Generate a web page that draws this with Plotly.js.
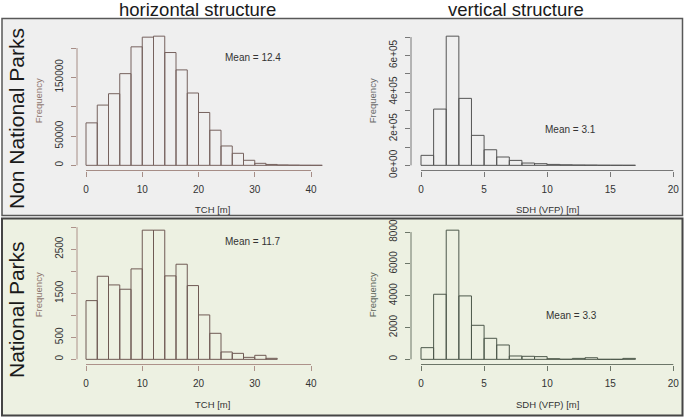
<!DOCTYPE html>
<html><head><meta charset="utf-8">
<script src="https://cdn.plot.ly/plotly-3.0.1.min.js"></script>
<style>html,body{margin:0;padding:0;background:#fff}#chart{width:685px;height:417px}</style>
</head><body><div id="chart"></div>
<script>
// ---------- DATA ----------
const columnTitles = ['horizontal structure', 'vertical structure'];
const rowTitles = ['Non National Parks', 'National Parks'];
const xTitles = ['TCH [m]', 'SDH (VFP) [m]'];
const yTitle = 'Frequency';

// Histogram bin edges and counts
const tchEdgesNonNP = [0,2,4,6,8,10,12,14,16,18,20,22,24,26,28,30,32,34,36,38,40,42];
const tchCountsNonNP = [72400,102700,122100,156300,202000,218500,220200,192300,162700,123300,90100,59900,33000,20500,8600,3400,1500,700,400,100,50];

const sdhEdgesNonNP = [0,1,2,3,4,5,6,7,8,9,10,11,12,13,14,15,16,17];
const sdhCountsNonNP = [54500,307000,705000,365500,163600,85000,45500,27000,12500,9000,5000,3000,2000,1500,800,500,300];

const tchEdgesNP = [0,2,4,6,8,10,12,14,16,18,20,22,24,26,28,30,32,34];
const tchCountsNP = [1333,1886,1689,1591,2053,2932,2932,1894,2159,1674,1008,591,167,136,45,91,23];

const sdhEdgesNP = [0,1,2,3,4,5,6,7,8,9,10,11,12,13,14,15,16,17];
const sdhCountsNP = [734,4092,8121,3987,2140,1322,902,210,190,170,40,5,60,100,0,0,60];

const meanLabels = ['Mean = 12.4', 'Mean = 3.1', 'Mean = 11.7', 'Mean = 3.3'];

// Tick values / labels
const tchTicks = [0,10,20,30,40];
const sdhTicks = [0,5,10,15,20];
const freqTicksNonNPTch = [0,50000,100000,150000,200000];
const freqLabelsNonNPTch = ['0','50000','','150000',''];
const freqTicksNonNPSdh = [0,100000,200000,300000,400000,500000,600000,700000];
const freqLabelsNonNPSdh = ['0e+00','','2e+05','','4e+05','','6e+05',''];
const freqTicksNPTch = [0,500,1000,1500,2000,2500,3000];
const freqLabelsNPTch = ['0','500','','1500','','2500',''];
const freqTicksNPSdh = [0,2000,4000,6000,8000];
const freqLabelsNPSdh = ['0','2000','4000','6000','8000'];

// ---------- LAYOUT HELPERS ----------
const W = 685, H = 417;
const px = v => v / W;
const py = v => 1 - v / H;

const panels = [
  {edges: tchEdgesNonNP, counts: tchCountsNonNP, xt: tchTicks, yt: freqTicksNonNPTch, yl: freqLabelsNonNPTch,
   xpx: [77, 349], ypx: [31, 170.5], zero: 86, scale: 5.625, bar: '#76625e', ax: '#a68d86', ftc: '#8f7770',
   mean: meanLabels[0], meanPx: [253, 57], freqPx: 38.5, xtitle: xTitles[0], xtitlePx: 209.5},
  {edges: sdhEdgesNonNP, counts: sdhCountsNonNP, xt: sdhTicks, yt: freqTicksNonNPSdh, yl: freqLabelsNonNPSdh,
   xpx: [411, 683.4], ypx: [31, 170.5], zero: 421, scale: 12.615, bar: '#555555', ax: '#787878', ftc: '#6a6a6a',
   mean: meanLabels[1], meanPx: [570.5, 129], freqPx: 372.5, xtitle: xTitles[1], xtitlePx: 209.5},
  {edges: tchEdgesNP, counts: tchCountsNP, xt: tchTicks, yt: freqTicksNPTch, yl: freqLabelsNPTch,
   xpx: [77, 349], ypx: [225, 364.5], zero: 86, scale: 5.625, bar: '#6f5a54', ax: '#ad928a', ftc: '#8f7770',
   mean: meanLabels[2], meanPx: [252.5, 242], freqPx: 38.5, xtitle: xTitles[0], xtitlePx: 404},
  {edges: sdhEdgesNP, counts: sdhCountsNP, xt: sdhTicks, yt: freqTicksNPSdh, yl: freqLabelsNPSdh,
   xpx: [411, 683.4], ypx: [225, 364.5], zero: 421, scale: 12.615, bar: '#4d584b', ax: '#6c7668', ftc: '#5e665b',
   mean: meanLabels[3], meanPx: [571, 315], freqPx: 372.5, xtitle: xTitles[1], xtitlePx: 404}
];

const traces = [];
const layout = {
  width: W, height: H,
  margin: {l: 0, r: 0, t: 0, b: 0, pad: 0},
  paper_bgcolor: '#ffffff',
  plot_bgcolor: 'rgba(0,0,0,0)',
  showlegend: false,
  font: {family: 'Liberation Sans, Arial, sans-serif', color: '#333'},
  shapes: [
    {type: 'rect', xref: 'paper', yref: 'paper', x0: px(2), x1: px(682.5), y0: py(18.5), y1: py(215.5),
     fillcolor: '#efefef', line: {color: '#585858', width: 1.5}, layer: 'below'},
    {type: 'rect', xref: 'paper', yref: 'paper', x0: px(2), x1: px(682.5), y0: py(218.5), y1: py(415.5),
     fillcolor: '#edf1e2', line: {color: '#454545', width: 2}, layer: 'below'}
  ],
  annotations: []
};

panels.forEach((p, i) => {
  const n = i + 1;
  const xid = 'x' + (n === 1 ? '' : n), yid = 'y' + (n === 1 ? '' : n);
  const xkey = 'xaxis' + (n === 1 ? '' : n), ykey = 'yaxis' + (n === 1 ? '' : n);
  const centers = p.counts.map((c, k) => (p.edges[k] + p.edges[k + 1]) / 2);
  const widths = p.counts.map((c, k) => p.edges[k + 1] - p.edges[k]);
  traces.push({
    type: 'bar', x: centers, y: p.counts, width: widths, xaxis: xid, yaxis: yid,
    marker: {color: 'rgba(0,0,0,0)', line: {color: p.bar, width: 1}},
    hoverinfo: 'skip'
  });
  const maxC = Math.max(...p.counts);
  const xr = [(p.xpx[0] - p.zero) / p.scale, (p.xpx[1] - p.zero) / p.scale];
  layout[xkey] = {
    domain: [px(p.xpx[0]), px(p.xpx[1])], range: xr, anchor: yid,
    showline: false, zeroline: false, showgrid: false,
    ticks: 'outside', ticklen: 5, tickwidth: 1, tickcolor: p.ax,
    tickvals: p.xt, ticktext: p.xt.map(String), ticklabelstandoff: 4,
    tickfont: {size: 10, color: '#333'}, fixedrange: true
  };
  layout[ykey] = {
    domain: [py(p.ypx[1]), py(p.ypx[0])], range: [-0.04 * maxC, 1.04 * maxC], anchor: xid,
    showline: false, zeroline: false, showgrid: false,
    ticks: 'outside', ticklen: 5, tickwidth: 1, tickcolor: p.ax,
    tickvals: p.yt, ticktext: p.yl, tickangle: -90, ticklabelstandoff: 4,
    tickfont: {size: 10, color: '#333'}, fixedrange: true
  };
  // R-style axis lines spanning first to last tick
  layout.shapes.push({type: 'line', xref: xid, yref: yid + ' domain', x0: p.xt[0], x1: p.xt[p.xt.length - 1], y0: 0, y1: 0,
    line: {color: p.ax, width: 1}});
  layout.shapes.push({type: 'line', xref: xid + ' domain', yref: yid, x0: 0, x1: 0, y0: p.yt[0], y1: p.yt[p.yt.length - 1],
    line: {color: p.ax, width: 1}});
  // Mean label
  layout.annotations.push({text: p.mean, xref: 'paper', yref: 'paper', x: px(p.meanPx[0]), y: py(p.meanPx[1]),
    xanchor: 'center', yanchor: 'middle', showarrow: false, font: {size: 10, color: '#333'}});
  // y title
  layout.annotations.push({text: yTitle, xref: 'paper', yref: 'paper', x: px(p.freqPx), y: (layout[ykey].domain[0] + layout[ykey].domain[1]) / 2,
    xanchor: 'center', yanchor: 'middle', textangle: -90, showarrow: false, font: {size: 9.5, color: p.ftc}});
  // x title
  layout.annotations.push({text: p.xtitle, xref: 'paper', yref: 'paper', x: (layout[xkey].domain[0] + layout[xkey].domain[1]) / 2, y: py(p.xtitlePx),
    xanchor: 'center', yanchor: 'middle', showarrow: false, font: {size: 9.5, color: '#333'}});
});

// Column titles
layout.annotations.push({text: columnTitles[0], xref: 'paper', yref: 'paper', x: px(197.5), y: py(9.5),
  xanchor: 'center', yanchor: 'middle', showarrow: false, font: {size: 18.5, color: '#1a1a1a'}});
layout.annotations.push({text: columnTitles[1], xref: 'paper', yref: 'paper', x: px(515.5), y: py(9.5),
  xanchor: 'center', yanchor: 'middle', showarrow: false, font: {size: 18.5, color: '#1a1a1a'}});
// Row titles
layout.annotations.push({text: rowTitles[0], xref: 'paper', yref: 'paper', x: px(16), y: py(119),
  xanchor: 'center', yanchor: 'middle', textangle: -90, showarrow: false, font: {size: 21, color: '#1a1a1a'}});
layout.annotations.push({text: rowTitles[1], xref: 'paper', yref: 'paper', x: px(16), y: py(310),
  xanchor: 'center', yanchor: 'middle', textangle: -90, showarrow: false, font: {size: 21, color: '#1a1a1a'}});

Plotly.newPlot('chart', traces, layout, {staticPlot: true, displayModeBar: false});
</script>
</body></html>
